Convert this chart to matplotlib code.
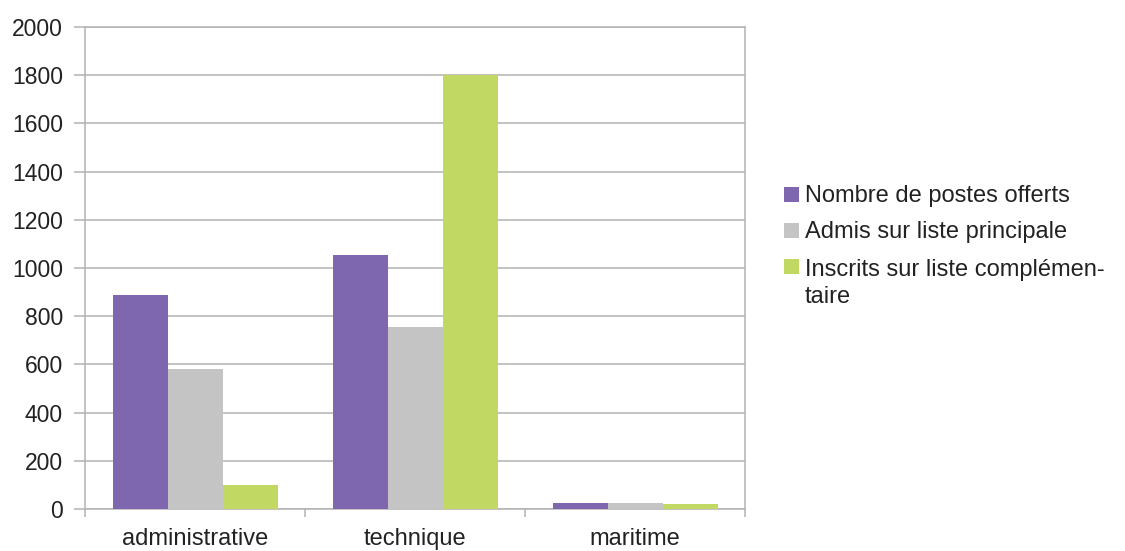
#!/usr/bin/env python3

import numpy as np
import matplotlib
matplotlib.use("Agg")
import matplotlib.pyplot as plt
from matplotlib.patches import Rectangle

categories = ["administrative", "technique", "maritime"]
series_names = ["Nombre de postes offerts",
                "Admis sur liste principale",
                "Inscrits sur liste complémen-\ntaire"]
postes = [890, 1055, 26]
admis = [580, 755, 26]
inscrits = [100, 1800, 20]
colors = ["#7e67ae", "#c3c4c3", "#c1d963"]
grid_color = "#b3b3b3"
W, H = 1125, 551


def main():
    plt.rcParams['font.family'] = ['Liberation Sans', 'DejaVu Sans']
    fig = plt.figure(figsize=(W / 100, H / 100), dpi=100)
    ax = fig.add_axes([85 / W, 42 / H, 660 / W, 482 / H])

    x = np.arange(len(categories))
    w = 0.25
    for i, vals in enumerate([postes, admis, inscrits]):
        ax.bar(x + (i - 1) * w, vals, width=w, color=colors[i], zorder=3)

    ax.set_xlim(-0.5, 2.5)
    ax.set_ylim(0, 2000)
    ax.set_yticks(range(0, 2001, 200))
    ax.set_xticks(x)
    ax.set_xticklabels(categories)
    ax.set_xticks([-0.5, 0.5, 1.5, 2.5], minor=True)

    ax.grid(axis='y', color=grid_color, linewidth=1.1, zorder=0)
    for s in ax.spines.values():
        s.set_color(grid_color)
        s.set_linewidth(1.1)

    ax.tick_params(axis='y', length=8, width=1.1, color=grid_color,
                   pad=8, labelsize=16.5, labelcolor="#222222")
    ax.tick_params(axis='x', which='major', length=0, pad=14,
                   labelsize=17, labelcolor="#222222")
    ax.tick_params(axis='x', which='minor', length=6, width=1.1,
                   color=grid_color)

    # legend drawn by hand so the swatch sits on the first line of the label
    baselines = [202, 238, 274]
    line_step = 29
    for name, col, yb in zip(series_names, colors, baselines):
        fig.patches.append(Rectangle((784 / W, 1 - yb / H), 15 / W, 15 / H,
                                     transform=fig.transFigure,
                                     facecolor=col, edgecolor='none'))
        # va='baseline' anchors the last line, so push down for wrapped labels
        y_last = yb + line_step * name.count("\n")
        fig.text(805 / W, 1 - y_last / H, name, fontsize=17, va='baseline',
                 ha='left', color="#222222", linespacing=1.28)

    fig.savefig("out.png", dpi=100)


if __name__ == "__main__":
    main()
